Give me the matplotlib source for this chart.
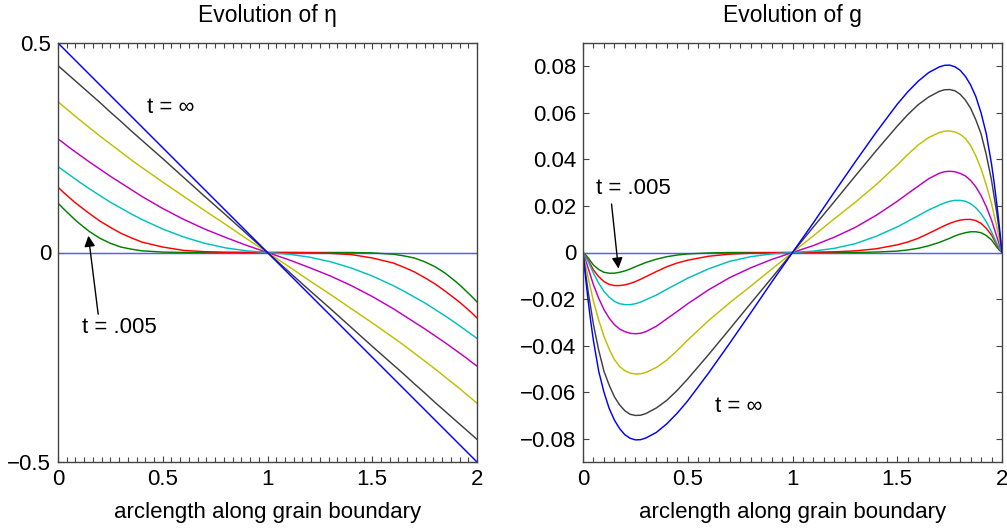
import numpy as np
import matplotlib.pyplot as plt
from matplotlib.ticker import MultipleLocator

plt.rcParams['font.family'] = ['Liberation Sans', 'DejaVu Sans']
plt.rcParams['font.size'] = 16

# arclength positions where the eta curves were read
x_eta = [0, 0.025, 0.05, 0.075, 0.1, 0.15, 0.2, 0.25, 0.3, 0.35, 0.4, 0.5, 0.6, 0.7, 0.8, 0.9, 1.0,
         1.1, 1.2, 1.3, 1.4, 1.5, 1.6, 1.65, 1.7, 1.75, 1.8, 1.85, 1.9, 1.925, 1.95, 1.975, 2.0]

eta_green = [0.118, 0.105, 0.093, 0.081, 0.070, 0.050, 0.034, 0.022, 0.013, 0.008, 0.004, 0.001, 0, 0, 0, 0, 0,
             0, 0, 0, 0, -0.001, -0.004, -0.008, -0.013, -0.022, -0.034, -0.050, -0.070, -0.081, -0.093, -0.105, -0.118]
eta_red = [0.156, 0.144, 0.133, 0.122, 0.112, 0.093, 0.075, 0.060, 0.046, 0.035, 0.025, 0.013, 0.005, 0.002, 0.0005, 0, 0,
           0, -0.0005, -0.002, -0.005, -0.013, -0.025, -0.035, -0.046, -0.060, -0.075, -0.093, -0.112, -0.122, -0.133, -0.144, -0.156]
eta_cyan = [0.205, 0.196, 0.187, 0.178, 0.169, 0.152, 0.136, 0.120, 0.106, 0.092, 0.079, 0.056, 0.037, 0.022, 0.011, 0.004, 0,
            -0.004, -0.011, -0.022, -0.037, -0.056, -0.079, -0.092, -0.106, -0.120, -0.136, -0.152, -0.169, -0.178, -0.187, -0.196, -0.205]
eta_magenta = [0.271, 0.262, 0.252, 0.243, 0.234, 0.216, 0.199, 0.182, 0.166, 0.150, 0.134, 0.105, 0.079, 0.056, 0.036, 0.017, 0,
               -0.017, -0.036, -0.056, -0.079, -0.105, -0.134, -0.150, -0.166, -0.182, -0.199, -0.216, -0.234, -0.243, -0.252, -0.262, -0.271]
eta_yellow = [0.360, 0.349, 0.339, 0.328, 0.318, 0.298, 0.278, 0.259, 0.240, 0.221, 0.203, 0.168, 0.134, 0.100, 0.067, 0.033, 0,
              -0.033, -0.067, -0.100, -0.134, -0.168, -0.203, -0.221, -0.240, -0.259, -0.278, -0.298, -0.318, -0.328, -0.339, -0.349, -0.360]
eta_black = [0.446, 0.435, 0.424, 0.413, 0.402, 0.380, 0.358, 0.335, 0.313, 0.290, 0.268, 0.224, 0.179, 0.134, 0.090, 0.045, 0,
             -0.045, -0.090, -0.134, -0.179, -0.224, -0.268, -0.290, -0.313, -0.335, -0.358, -0.380, -0.402, -0.413, -0.424, -0.435, -0.446]
x_line = [0, 2]
eta_inf = [0.5, -0.5]
zero = [0, 0]

# arclength positions where the g curves were read
x_g = [0, 0.0125, 0.025, 0.0375, 0.05, 0.075, 0.1, 0.125, 0.15, 0.175, 0.2, 0.225, 0.25, 0.275, 0.3,
       0.35, 0.4, 0.45, 0.5, 0.6, 0.7, 0.8, 0.9, 1.0,
       1.1, 1.2, 1.3, 1.4, 1.5, 1.55, 1.6, 1.65, 1.7, 1.725, 1.75, 1.775, 1.8, 1.825, 1.85, 1.875,
       1.9, 1.925, 1.95, 1.9625, 1.975, 1.9875, 2.0]

g_blue = [0, -0.011, -0.021, -0.030, -0.038, -0.051, -0.060, -0.067, -0.072, -0.0757, -0.0783, -0.0798, -0.0805, -0.0804, -0.0797,
          -0.0773, -0.0736, -0.0690, -0.0637, -0.0517, -0.0390, -0.0260, -0.0128, 0,
          0.0128, 0.0260, 0.0390, 0.0517, 0.0637, 0.0690, 0.0736, 0.0773, 0.0797, 0.0804, 0.0805, 0.0798, 0.0783, 0.0757, 0.072, 0.067,
          0.060, 0.051, 0.038, 0.030, 0.021, 0.011, 0]
g_black = [0, -0.009, -0.017, -0.024, -0.031, -0.042, -0.051, -0.057, -0.062, -0.0655, -0.068, -0.0695, -0.0700, -0.0699, -0.0692,
           -0.0668, -0.0635, -0.0592, -0.0543, -0.0438, -0.0329, -0.0219, -0.0110, 0,
           0.0110, 0.0219, 0.0329, 0.0438, 0.0543, 0.0592, 0.0635, 0.0668, 0.0692, 0.0699, 0.0700, 0.0695, 0.068, 0.0655, 0.062, 0.057,
           0.051, 0.042, 0.031, 0.024, 0.017, 0.009, 0]
g_yellow = [0, -0.0055, -0.011, -0.016, -0.021, -0.029, -0.036, -0.0415, -0.046, -0.049, -0.0508, -0.0518, -0.0522, -0.0521, -0.0515,
            -0.0494, -0.0462, -0.0421, -0.0376, -0.0292, -0.0216, -0.0145, -0.0072, 0,
            0.0072, 0.0145, 0.0216, 0.0292, 0.0376, 0.0421, 0.0462, 0.0494, 0.0515, 0.0521, 0.0522, 0.0518, 0.0508, 0.049, 0.046, 0.0415,
            0.036, 0.029, 0.021, 0.016, 0.011, 0.0055, 0]
g_magenta = [0, -0.0034, -0.0068, -0.0104, -0.0139, -0.0197, -0.0245, -0.0282, -0.031, -0.0329, -0.034, -0.0347, -0.0349, -0.0347, -0.034,
             -0.0317, -0.0285, -0.0253, -0.022, -0.016, -0.0108, -0.0066, -0.003, 0,
             0.003, 0.0066, 0.0108, 0.016, 0.022, 0.0253, 0.0285, 0.0317, 0.034, 0.0347, 0.0349, 0.0347, 0.034, 0.0329, 0.031, 0.0282,
             0.0245, 0.0197, 0.0139, 0.0104, 0.0068, 0.0034, 0]
g_cyan = [0, -0.0019, -0.004, -0.0064, -0.0089, -0.0132, -0.0167, -0.0192, -0.021, -0.022, -0.0224, -0.0224, -0.022, -0.0213, -0.0203,
          -0.0183, -0.0158, -0.0134, -0.011, -0.007, -0.0038, -0.0018, -0.0006, 0,
          0.0006, 0.0018, 0.0038, 0.007, 0.011, 0.0134, 0.0158, 0.0183, 0.0203, 0.0213, 0.022, 0.0224, 0.0224, 0.022, 0.021, 0.0192,
          0.0167, 0.0132, 0.0089, 0.0064, 0.004, 0.0019, 0]
g_red = [0, -0.0015, -0.0033, -0.0054, -0.0075, -0.0104, -0.0125, -0.0137, -0.0142, -0.0142, -0.0139, -0.0133, -0.0125, -0.0115, -0.0104,
         -0.0082, -0.0061, -0.0045, -0.0033, -0.0016, -0.0007, -0.0003, -0.0001, 0,
         0.0001, 0.0003, 0.0007, 0.0016, 0.0033, 0.0045, 0.0061, 0.0082, 0.0104, 0.0115, 0.0125, 0.0133, 0.0139, 0.0142, 0.0142, 0.0137,
         0.0125, 0.0104, 0.0075, 0.0054, 0.0033, 0.0015, 0]
g_green = [0, -0.001, -0.0023, -0.0039, -0.0054, -0.0073, -0.0085, -0.0089, -0.0089, -0.0085, -0.0079, -0.0071, -0.0061, -0.0052, -0.0043,
           -0.0029, -0.0018, -0.0011, -0.0006, -0.0002, 0, 0, 0, 0,
           0, 0, 0, 0.0002, 0.0006, 0.0011, 0.0018, 0.0029, 0.0043, 0.0052, 0.0061, 0.0071, 0.0079, 0.0085, 0.0089, 0.0089,
           0.0085, 0.0073, 0.0054, 0.0039, 0.0023, 0.001, 0]

x_ticks = [0, 0.5, 1, 1.5, 2]
x_ticklabels = ['0', '0.5', '1', '1.5', '2']
eta_ticks = [-0.5, 0, 0.5]
eta_ticklabels = ['\u22120.5', '0', '0.5']
g_ticks = [-0.08, -0.06, -0.04, -0.02, 0, 0.02, 0.04, 0.06, 0.08]
g_ticklabels = ['\u22120.08', '\u22120.06', '\u22120.04', '\u22120.02', '0', '0.02', '0.04', '0.06', '0.08']

# matlab default line colours
c_blue = (0, 0, 1)
c_zero = (0.35, 0.35, 1)
c_green = (0, 0.5, 0)
c_red = (1, 0, 0)
c_cyan = (0, 0.75, 0.75)
c_mag = (0.75, 0, 0.75)
c_yel = (0.75, 0.75, 0)
c_blk = (0.25, 0.25, 0.25)
lw = 1.05

fig = plt.figure(figsize=(10.07, 5.28), dpi=100)
ax1 = fig.add_axes([58/1007, 66/528, 419/1007, 419/528])
ax2 = fig.add_axes([583/1007, 66/528, 419/1007, 419/528])

# left: eta
ax1.plot(x_line, zero, color=c_zero, lw=lw)
ax1.plot(x_eta, eta_green, color=c_green, lw=lw)
ax1.plot(x_eta, eta_red, color=c_red, lw=lw)
ax1.plot(x_eta, eta_cyan, color=c_cyan, lw=lw)
ax1.plot(x_eta, eta_magenta, color=c_mag, lw=lw)
ax1.plot(x_eta, eta_yellow, color=c_yel, lw=lw)
ax1.plot(x_eta, eta_black, color=c_blk, lw=lw)
ax1.plot(x_line, eta_inf, color=c_blue, lw=lw)
ax1.set_xlim(0, 2)
ax1.set_ylim(-0.5, 0.5)
ax1.set_yticks(eta_ticks)
ax1.set_yticklabels(eta_ticklabels)
ax1.xaxis.set_minor_locator(MultipleLocator(0.5/12))
ax1.set_title('Evolution of \u03b7', fontsize=16.5, pad=15)
ax1.text(0.425, 0.346, 't = \u221e', va='center', ha='left')
ax1.annotate('t = .005', xy=(0.145, 0.040), xytext=(0.115, -0.179),
             va='center', ha='left',
             arrowprops=dict(arrowstyle='-|>', color='k', lw=1, mutation_scale=16,
                             shrinkA=0, shrinkB=0, relpos=(0.22, 1.0)))

# right: g
ax2.plot(x_line, zero, color=c_zero, lw=lw)
ax2.plot(x_g, g_green, color=c_green, lw=lw)
ax2.plot(x_g, g_red, color=c_red, lw=lw)
ax2.plot(x_g, g_cyan, color=c_cyan, lw=lw)
ax2.plot(x_g, g_magenta, color=c_mag, lw=lw)
ax2.plot(x_g, g_yellow, color=c_yel, lw=lw)
ax2.plot(x_g, g_black, color=c_blk, lw=lw)
ax2.plot(x_g, g_blue, color=c_blue, lw=lw)
ax2.set_xlim(0, 2)
ax2.set_ylim(-0.09, 0.09)
ax2.set_yticks(g_ticks)
ax2.set_yticklabels(g_ticklabels)
ax2.xaxis.set_minor_locator(MultipleLocator(0.05))
ax2.set_title('Evolution of g', fontsize=16.5, pad=15)
ax2.text(0.63, -0.066, 't = \u221e', va='center', ha='left')
ax2.annotate('t = .005', xy=(0.169, -0.0069), xytext=(0.062, 0.0277),
             va='center', ha='left',
             arrowprops=dict(arrowstyle='-|>', color='k', lw=1, mutation_scale=16,
                             shrinkA=2, shrinkB=0, relpos=(0.2, 0.0)))

for ax in (ax1, ax2):
    ax.set_xticks(x_ticks)
    ax.set_xticklabels(x_ticklabels)
    ax.set_xlabel('arclength along grain boundary', labelpad=9)
    for s in ax.spines.values():
        s.set_color('#444444')
        s.set_linewidth(1.0)
    ax.tick_params(which='both', direction='in', top=True, right=True, colors='#444444',
                   labelcolor='black', labelsize=16, width=0.8)
    ax.tick_params(which='major', length=4, pad=5)
    ax.tick_params(which='minor', length=3.5)

fig.savefig('out.png', dpi=100)
